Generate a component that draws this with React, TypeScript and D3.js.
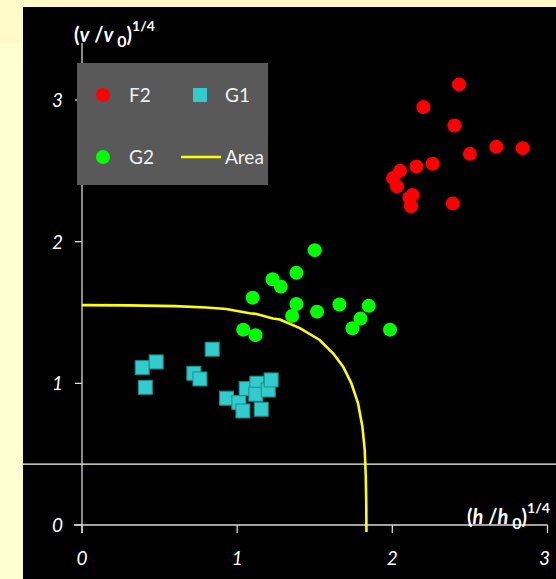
import React from "react";
import * as d3 from "d3";

const f2X = [2.43, 2.2, 2.4, 2.5, 2.67, 2.84, 2.26, 2.155, 2.05, 2.005, 2.03, 2.13, 2.11, 2.12, 2.39];
const f2Y = [3.11, 2.95, 2.82, 2.62, 2.67, 2.66, 2.55, 2.53, 2.5, 2.45, 2.39, 2.33, 2.31, 2.25, 2.27];

const g2X = [1.1, 1.228, 1.281, 1.039, 1.118, 1.354, 1.5, 1.382, 1.382, 1.515, 1.659, 1.848, 1.795, 1.743, 1.985];
const g2Y = [1.605, 1.735, 1.683, 1.379, 1.34, 1.476, 1.94, 1.78, 1.56, 1.506, 1.556, 1.547, 1.457, 1.389, 1.379];

const g1X = [0.388, 0.478, 0.408, 0.839, 0.721, 0.76, 0.932, 1.011, 1.037, 1.058, 1.127, 1.12, 1.2, 1.219, 1.155];
const g1Y = [1.111, 1.151, 0.972, 1.241, 1.071, 1.031, 0.895, 0.864, 0.805, 0.963, 1.001, 0.923, 0.953, 1.024, 0.817];

const areaX = [0, 0.3, 0.6, 0.8, 0.93, 1.08, 1.125, 1.23, 1.275, 1.404, 1.532, 1.618, 1.683, 1.736, 1.779, 1.807, 1.822, 1.829, 1.832, 1.833];
const areaY = [1.552, 1.55, 1.545, 1.535, 1.525, 1.495, 1.49, 1.457, 1.45, 1.39, 1.306, 1.212, 1.118, 1.0, 0.859, 0.694, 0.53, 0.341, 0.15, -0.05];

const xTicks = [0, 1, 2, 3];
const yTicks = [0, 1, 2, 3];
const refLineY = 0.43;

const FONT = "Lato, 'Open Sans', sans-serif";

export default function App() {
  const W = 556, H = 579;
  const x = d3.scaleLinear().domain([0, 3]).range([82, 547.5]);
  const y = d3.scaleLinear().domain([0, 3]).range([525, 100]);
  const line = d3.line<number>().x((_, i) => x(areaX[i])).y((_, i) => y(areaY[i]));
  const axisColor = "#D9D9D9";
  const sq = 14;

  return (
    <svg width={W} height={H} style={{ position: "absolute", left: 0, top: 0 }} fontFamily={FONT}>
      <rect x={0} y={0} width={W} height={H} fill="#FFFFD2" />
      <rect x={0} y={0} width={W} height={43} fill="#FFFAC8" />
      <rect x={23} y={7} width={W - 23} height={H - 7} fill="#000" />

      {/* reference horizontal line */}
      <line x1={23} x2={W} y1={y(refLineY)} y2={y(refLineY)} stroke="#FFFFCC" strokeWidth={1.2} />

      {/* axes */}
      <line x1={x(0)} x2={x(0)} y1={43} y2={y(0) + 8} stroke={axisColor} strokeWidth={1.3} />
      <line x1={x(0) - 8} x2={x(3)} y1={y(0)} y2={y(0)} stroke={axisColor} strokeWidth={1.3} />
      {yTicks.map((t) => (
        <g key={"yt" + t}>
          <line x1={x(0) - 7} x2={x(0)} y1={y(t)} y2={y(t)} stroke={axisColor} strokeWidth={1.3} />
          <text x={63} y={y(t) + 7} fill="#fff" fontSize={19} fontStyle="italic" textAnchor="end">{t}</text>
        </g>
      ))}
      {xTicks.map((t) => (
        <g key={"xt" + t}>
          <line x1={x(t)} x2={x(t)} y1={y(0)} y2={y(0) + 8} stroke={axisColor} strokeWidth={1.3} />
          <text x={x(t) - (t === 3 ? 3 : 0)} y={565} fill="#fff" fontSize={19} fontStyle="italic" textAnchor="middle">{t}</text>
        </g>
      ))}

      {/* axis titles */}
      <text x={74} y={42} fill="#fff" fontSize={20} fontWeight="bold">
        (<tspan fontStyle="italic">v</tspan> /<tspan fontStyle="italic">v</tspan>
        <tspan fontSize={16} dy={5}> 0</tspan>
        <tspan dy={-5}>)</tspan>
        <tspan fontSize={14} dy={-11}>1/4</tspan>
      </text>
      <text x={467} y={524} fill="#fff" fontSize={20} fontWeight="bold">
        (<tspan fontStyle="italic">h</tspan> /<tspan fontStyle="italic">h</tspan>
        <tspan fontSize={16} dy={5}> 0</tspan>
        <tspan dy={-5}>)</tspan>
        <tspan fontSize={14} dy={-11}>1/4</tspan>
      </text>

      {/* area curve */}
      <path d={line(areaX) || ""} fill="none" stroke="#FFFF00" strokeWidth={2.6} />

      {/* G1 squares */}
      {g1X.map((v, i) => (
        <rect key={"g1" + i} x={x(v) - sq / 2} y={y(g1Y[i]) - sq / 2} width={sq} height={sq} fill="#33CCCC" stroke="#1E8C8C" strokeWidth={1} />
      ))}
      {/* G2 circles */}
      {g2X.map((v, i) => (
        <circle key={"g2" + i} cx={x(v)} cy={y(g2Y[i])} r={7} fill="#00FF00" />
      ))}
      {/* F2 circles */}
      {f2X.map((v, i) => (
        <circle key={"f2" + i} cx={x(v)} cy={y(f2Y[i])} r={7} fill="#FF0000" />
      ))}

      {/* legend */}
      <rect x={77} y={63} width={191} height={122} fill="#595959" />
      <circle cx={103} cy={95} r={7} fill="#FF0000" />
      <text x={129} y={102} fill="#F2F2F2" fontSize={19}>F2</text>
      <rect x={193} y={88} width={14} height={14} fill="#33CCCC" />
      <text x={225} y={102} fill="#F2F2F2" fontSize={19}>G1</text>
      <circle cx={103} cy={157} r={7} fill="#00FF00" />
      <text x={129} y={164} fill="#F2F2F2" fontSize={19}>G2</text>
      <line x1={181} x2={221} y1={157} y2={157} stroke="#FFFF00" strokeWidth={2.6} />
      <text x={225} y={164} fill="#F2F2F2" fontSize={19}>Area</text>
    </svg>
  );
}
